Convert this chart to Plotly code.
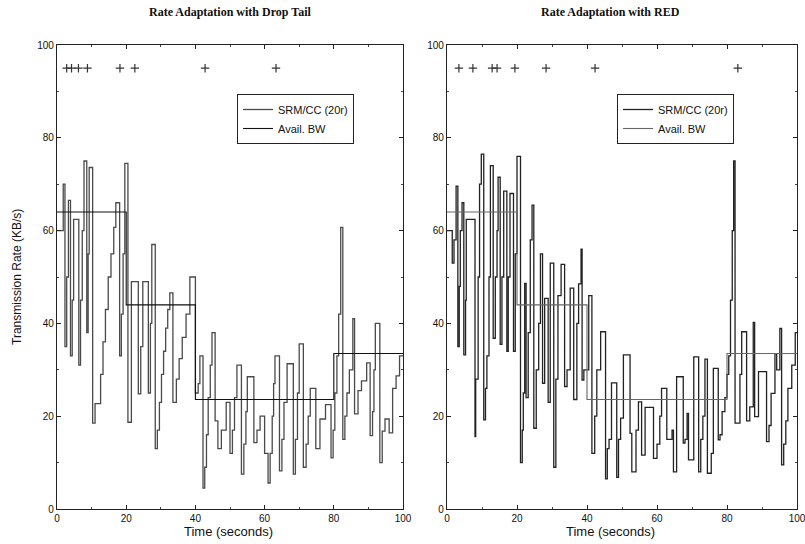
import plotly.graph_objects as go

# ---------------- data ----------------
# Drop Tail: SRM/CC (20r) rate, step function (time, rate)
dt_time = [0.0, 1.8, 2.3, 2.8, 3.3, 3.9, 4.4, 4.8, 6.3, 6.8, 7.3, 7.8, 8.6, 9.0, 9.3,
           10.3, 11.0, 12.6, 13.3, 14.0, 14.8, 15.6, 16.4, 17.0, 18.1, 18.6, 19.1, 19.6,
           20.5, 21.5, 23.5, 24.2, 24.8, 26.4, 27.0, 27.4, 28.4, 29.0, 29.6, 30.2, 30.8,
           31.4, 32.0, 32.6, 33.5, 34.5, 35.3, 36.2, 37.3, 38.4, 40.0, 40.8, 41.3, 42.2,
           42.7, 43.2, 43.7, 44.3, 44.8, 45.7, 46.5, 47.5, 48.9, 50.0, 50.7, 51.3, 52.0,
           53.3, 54.0, 54.6, 55.0, 56.9, 57.8, 58.7, 60.0, 61.0, 61.6, 62.2, 62.6, 63.0,
           64.3, 65.0, 65.6, 66.5, 68.3, 68.9, 69.5, 70.0, 71.2, 72.0, 72.6, 73.2, 74.8,
           76.0, 77.6, 79.2, 79.8, 80.3, 80.9, 81.4, 82.0, 82.6, 83.2, 83.8, 84.5, 85.5,
           86.0, 87.0, 88.0, 89.5, 90.5, 91.2, 91.6, 92.0, 93.3, 94.0, 94.8, 96.0, 97.0,
           98.0, 99.0, 100.0]
dt_rate = [60, 70, 35, 50, 66.5, 33, 45, 62.4, 31, 45, 60, 75, 38, 55, 73.6,
           18.5, 22.7, 29, 36, 43, 50, 55, 60.7, 66, 33, 42, 55, 74.5,
           18.7, 49, 24.8, 35, 49, 25, 40, 57, 13, 17, 23, 29, 34,
           39, 43, 46.6, 23, 28, 32.4, 37, 42, 50, 25, 27, 33, 4.5,
           9, 16, 24, 31, 38, 19, 13, 17, 23, 12, 17, 24, 31,
           7.5, 14, 21, 28.5, 14.3, 17, 20, 12, 5.6, 12, 20, 27, 33,
           8.2, 15, 23, 31.3, 7.5, 15, 25, 35.6, 9, 14, 20, 26, 13,
           19.4, 22.5, 11, 17, 25, 33, 42, 60.7, 15, 20, 25, 30, 41,
           20.5, 25.5, 27.6, 31.5, 15.8, 21, 30, 40, 10, 16.8, 19.4, 16.4, 26,
           28.7, 33, 33]

# RED: SRM/CC (20r) rate
red_time = [0.0, 1.5, 2.0, 2.6, 3.1, 3.5, 3.8, 4.3, 4.8, 5.3, 5.5, 8.0, 8.2, 8.9, 9.3,
            9.8, 10.5, 11.0, 11.4, 12.0, 12.4, 13.2, 13.8, 14.3, 14.6, 15.2, 15.7, 16.2,
            17.1, 17.5, 18.0, 19.0, 19.5, 20.0, 21.0, 21.5, 21.8, 22.2, 22.6, 23.2, 23.8,
            24.3, 24.8, 25.5, 26.2, 26.7, 27.3, 27.9, 28.9, 29.5, 30.5, 31.1, 31.7, 32.6,
            33.6, 34.3, 35.2, 36.2, 37.1, 37.6, 38.3, 38.6, 39.1, 40.5, 41.4, 42.2, 42.8,
            43.9, 45.3, 45.8, 46.3, 47.0, 48.5, 49.0, 49.6, 50.4, 52.3, 52.8, 54.0, 54.7,
            55.6, 56.6, 59.0, 60.0, 60.8, 61.3, 62.8, 64.3, 64.7, 65.6, 67.5, 68.0, 68.6,
            69.0, 70.5, 71.9, 72.5, 73.1, 73.7, 74.4, 75.5, 76.1, 77.5, 78.0, 78.6, 79.4,
            80.0, 80.5, 81.0, 81.5, 81.9, 82.3, 83.7, 84.2, 85.6, 86.5, 87.5, 87.9, 89.0,
            91.3, 92.0, 92.6, 93.7, 94.2, 95.1, 95.6, 96.2, 96.8, 97.4, 98.5, 99.5, 100.0]
red_rate = [60, 53, 58, 69.6, 35, 48, 60, 66, 33.2, 45, 62.4, 15.6, 28, 50, 70,
            76.5, 19.2, 26, 33, 50, 74, 36.8, 50, 60, 71.5, 35.5, 50, 68.5,
            34, 50, 68, 34, 55, 76, 10, 17, 25, 48.6, 24, 38, 58,
            65.5, 17.4, 30, 40, 55, 27.1, 45.4, 23, 53, 9, 28, 46, 52.7,
            26.4, 30, 47.6, 23.6, 40, 48.5, 56, 27.8, 30, 46, 12, 20, 30,
            38.2, 6.5, 13, 15, 27.2, 6.8, 15, 19.6, 33.2, 16.3, 8, 17, 23.1,
            11.6, 21.9, 10.9, 14, 20, 26, 15, 17, 8, 28.5, 14.2, 15, 20.6,
            10.6, 32.8, 8, 15, 20, 32.3, 7.7, 12, 30.3, 14.9, 16, 21, 24,
            29, 33, 45, 60, 75, 18.5, 29, 38.2, 19, 22, 40.2, 19.9, 29.6,
            14.5, 18, 24.9, 33.5, 30, 38.9, 9.5, 14, 19, 26, 31, 38, 38]

# Available bandwidth (same schedule in both runs)
bw_time = [0, 20, 40, 80, 100]
bw_rate = [64, 44, 23.6, 33.5, 33.5]

# event marks plotted at the top of each panel
dt_mark_time = [2.8, 4.2, 6.2, 8.8, 18.2, 22.5, 42.8, 63.3]
red_mark_time = [3.4, 7.4, 12.9, 14.3, 19.4, 28.3, 42.3, 83.1]
mark_level = 95

x_ticks = [0, 20, 40, 60, 80, 100]
y_ticks = [0, 20, 40, 60, 80, 100]

titles = ["Rate Adaptation with Drop Tail", "Rate Adaptation with RED"]
y_title = "Transmission Rate (KB/s)"
x_title = "Time (seconds)"

# ---------------- figure ----------------
W, H = 805, 544
L, R, T, B = 57, 797, 45, 509   # plotting area in pixels
SANS = "Liberation Sans, Arial, sans-serif"
SERIF = "Liberation Serif, Times New Roman, serif"

def px_x(p):
    return (p - L) / (R - L)

def px_y(p):
    return (B - p) / (B - T)

fig = go.Figure()

def add_panel(k, t, r, marks, legend_name, srm_color, bw_color):
    xa = "x" if k == 1 else "x2"
    ya = "y" if k == 1 else "y2"
    fig.add_trace(go.Scatter(x=t, y=r, mode="lines", line_shape="hv",
                             line=dict(color=srm_color, width=1.3),
                             name="SRM/CC (20r)", xaxis=xa, yaxis=ya, legend=legend_name))
    fig.add_trace(go.Scatter(x=bw_time, y=bw_rate, mode="lines", line_shape="hv",
                             line=dict(color=bw_color, width=1.1),
                             name="Avail. BW", xaxis=xa, yaxis=ya, legend=legend_name))
    fig.add_trace(go.Scatter(x=marks, y=[mark_level] * len(marks), mode="markers",
                             marker=dict(symbol="cross-thin", size=6,
                                         line=dict(color="#333", width=1.2)),
                             showlegend=False, xaxis=xa, yaxis=ya, hoverinfo="skip"))

add_panel(1, dt_time, dt_rate, dt_mark_time, "legend", "#4a4a4a", "#111")
add_panel(2, red_time, red_rate, red_mark_time, "legend2", "#222", "#666")

axis_common = dict(range=[0, 100], showgrid=False, zeroline=False, showline=True,
                   linecolor="#222", linewidth=1.2, mirror="ticks", ticks="inside",
                   ticklen=4, tickcolor="#222", automargin=False,
                   ticklabeloverflow="allow",
                   tickfont=dict(family=SANS, size=10, color="#111"),
                   minor=dict(dtick=10, ticks="inside", ticklen=2, tickcolor="#444"))

fig.update_layout(
    width=W, height=H, margin=dict(l=L, r=W - R, t=T, b=H - B, autoexpand=False),
    paper_bgcolor="white", plot_bgcolor="white", showlegend=True,
    xaxis=dict(axis_common, domain=[0, px_x(403)], anchor="y",
               tickvals=x_ticks, ticktext=[str(v) for v in x_ticks]),
    yaxis=dict(axis_common, domain=[0, 1], anchor="x",
               tickvals=y_ticks, ticktext=[str(v) for v in y_ticks]),
    xaxis2=dict(axis_common, domain=[px_x(447), 1], anchor="y2",
                tickvals=x_ticks, ticktext=[str(v) for v in x_ticks]),
    yaxis2=dict(axis_common, domain=[0, 1], anchor="x2",
                tickvals=y_ticks, ticktext=[str(v) for v in y_ticks]),
    legend=dict(x=px_x(237), y=px_y(94), xanchor="left", yanchor="top",
                bordercolor="#222", borderwidth=1, bgcolor="white",
                font=dict(family=SANS, size=11, color="#111"),
                itemwidth=30, tracegroupgap=0),
    legend2=dict(x=px_x(617), y=px_y(94), xanchor="left", yanchor="top",
                 bordercolor="#222", borderwidth=1, bgcolor="white",
                 font=dict(family=SANS, size=11, color="#111"),
                 itemwidth=30, tracegroupgap=0),
)

ann = []
for cx, txt in zip([230, 610], titles):
    ann.append(dict(x=px_x(cx), y=px_y(12), xref="paper", yref="paper", text="<b>" + txt + "</b>",
                    xanchor="center", yanchor="middle",
                    showarrow=False, font=dict(family=SERIF, size=12, color="#111")))
for cx in [228, 610]:
    ann.append(dict(x=px_x(cx), y=px_y(531), xref="paper", yref="paper", text=x_title,
                    xanchor="center", yanchor="middle",
                    showarrow=False, font=dict(family=SANS, size=13, color="#111")))
ann.append(dict(x=px_x(17), y=px_y(277), xref="paper", yref="paper", text=y_title,
                xanchor="center", yanchor="middle",
                textangle=-90, showarrow=False, font=dict(family=SANS, size=12, color="#111")))
fig.update_layout(annotations=ann)

fig.write_html("out.html", post_script="document.body.style.margin='0';",
               config={"displayModeBar": False})
